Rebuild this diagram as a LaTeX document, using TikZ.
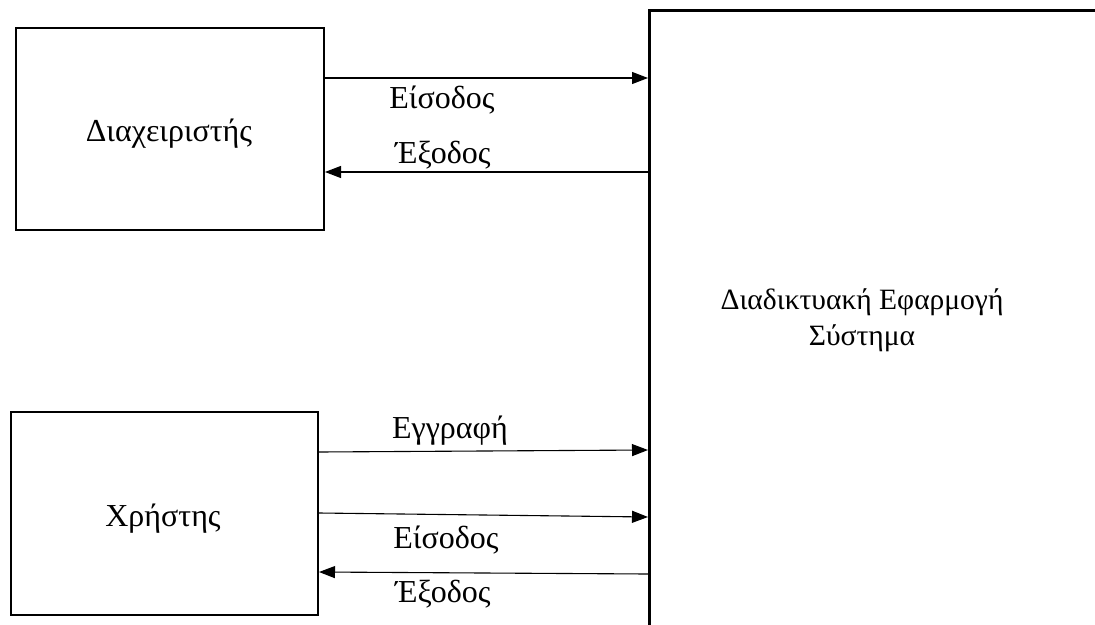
\documentclass[tikz,border=0pt]{standalone}
\usepackage{fontspec}
\setmainfont{Liberation Serif}
\usetikzlibrary{arrows.meta}
\begin{document}
\begin{tikzpicture}[x=1pt,y=-1pt,
  box/.style={draw,line width=2pt,inner sep=0pt,anchor=north west},
  flow/.style={line width=1.1pt,-{Triangle[length=16pt,width=12pt]}},
  lbl/.style={font=\fontsize{32}{37}\selectfont,inner sep=0pt},
  every node/.style={font=\fontsize{32}{37}\selectfont}]
\useasboundingbox (0,0) rectangle (1095,624);
\node[box,minimum width=308pt,minimum height=202pt] (admin) at (15,27) {};
\node[lbl] (admintxt) at (169,134) {Διαχειριστής};
\node[box,minimum width=307pt,minimum height=203pt] (user) at (10,411) {};
\node[lbl] (usertxt) at (163,519) {Χρήστης};
\node[box,line width=2.6pt,minimum width=460pt,minimum height=640pt] (sys) at (648,9) {};
\node[lbl,align=center,font=\fontsize{29.5}{36}\selectfont] (systxt) at (862,320) {Διαδικτυακή Εφαρμογή\\Σύστημα};
% admin arrows
\draw[flow] ([yshift=-51pt]admin.north east) -- ([yshift=-69pt]sys.north west);
\draw[flow] ([yshift=-163pt]sys.north west) -- ([yshift=-145pt]admin.north east);
% user arrows
\draw[flow] ([yshift=-41pt]user.north east) -- ([yshift=-441pt]sys.north west);
\draw[flow] ([yshift=-102pt]user.north east) -- ([yshift=-508pt]sys.north west);
\draw[flow] ([yshift=-565pt]sys.north west) -- ([yshift=-161pt]user.north east);
% labels
\node[lbl] (l1) at (442,100) {Είσοδος};
\node[lbl] (l2) at (443,155) {Έξοδος};
\node[lbl] (l3) at (450,431) {Εγγραφή};
\node[lbl] (l4) at (446,540) {Είσοδος};
\node[lbl] (l5) at (443,594) {Έξοδος};
\end{tikzpicture}
\end{document}
